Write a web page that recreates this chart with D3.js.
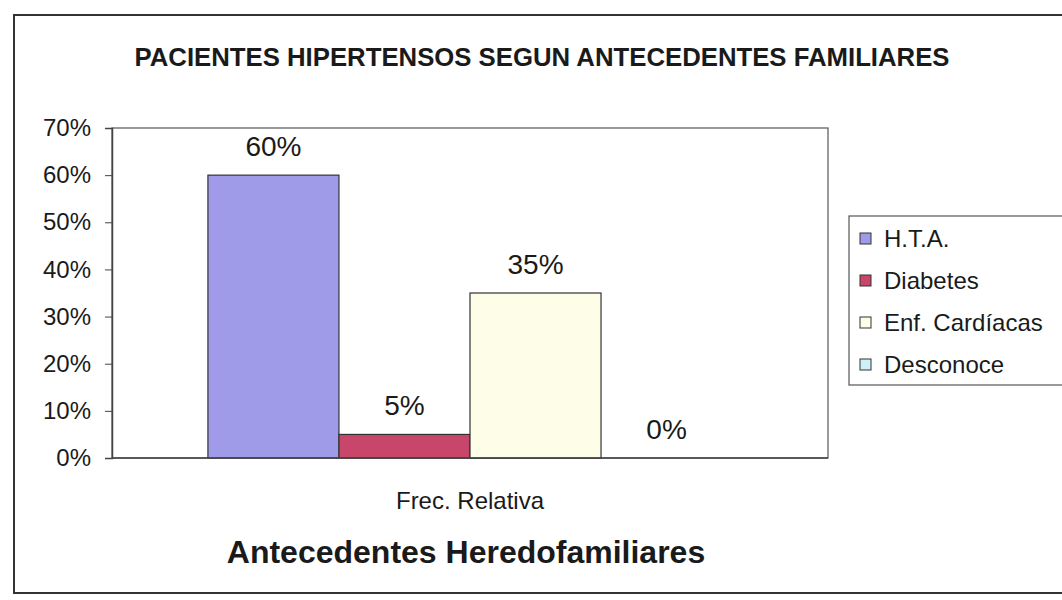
<!DOCTYPE html>
<html>
<head>
<meta charset="utf-8">
<script src="https://cdn.jsdelivr.net/npm/d3@7"></script>
<style>
body { margin: 0; background: #fff; }
text { font-family: "Liberation Sans", Arial, sans-serif; fill: #1a1a1a; }
</style>
</head>
<body>
<div class="chart"></div>
<script>
var width = 1062;
var height = 600;

// data
var category = ["Frec. Relativa"];
var series = ["H.T.A.", "Diabetes", "Enf. Cardíacas", "Desconoce"];
var values = [0.60, 0.05, 0.35, 0.00];
var colors = ["#a09be9", "#c8466a", "#fdfde8", "#ccf2f7"];
var yTicks = [0, 0.1, 0.2, 0.3, 0.4, 0.5, 0.6, 0.7];

var svg = d3.select(".chart").append("svg")
.attr("width", width)
.attr("height", height)
.style("display", "block");

// outer frame
svg.append("rect")
.attr("x", 14).attr("y", 15)
.attr("width", 1070).attr("height", 578)
.attr("fill", "none")
.attr("stroke", "#333")
.attr("stroke-width", 2);

svg.append("text")
.attr("x", 542).attr("y", 66)
.attr("text-anchor", "middle")
.attr("font-size", "25px")
.attr("font-weight", "bold")
.attr("textLength", 815)
.attr("lengthAdjust", "spacingAndGlyphs")
.text("PACIENTES HIPERTENSOS SEGUN ANTECEDENTES FAMILIARES");

var plot = { left: 112, top: 128, right: 828, bottom: 458 };

var y = d3.scaleLinear()
.domain([0, 0.7])
.range([plot.bottom, plot.top]);

var x0 = d3.scaleBand()
.domain(category)
.range([plot.left, plot.right])
.paddingInner(0)
.paddingOuter(0.183);

var x1 = d3.scaleBand()
.domain(series)
.range([0, x0.bandwidth()]);

// plot frame
svg.append("rect")
.attr("x", plot.left).attr("y", plot.top)
.attr("width", plot.right - plot.left).attr("height", plot.bottom - plot.top)
.attr("fill", "#fff")
.attr("stroke", "#555")
.attr("stroke-width", 1.2);

var yAxis = svg.append("g")
.attr("transform", "translate(" + plot.left + ",0)")
.call(d3.axisLeft(y)
  .tickValues(yTicks)
  .tickSize(7)
  .tickPadding(14)
  .tickFormat(d3.format(".0%")));
yAxis.select(".domain").attr("stroke", "#444").attr("stroke-width", 1.5);
yAxis.selectAll(".tick line").attr("stroke", "#444");
yAxis.selectAll("text")
.attr("font-size", "24px")
.attr("fill", "#1a1a1a")
.style("font-family", "'Liberation Sans', Arial, sans-serif");

var group = svg.selectAll(".group")
.data(category)
.enter().append("g")
.attr("transform", function(d) { return "translate(" + x0(d) + ",0)"; });

group.selectAll("rect")
.data(series.map(function(s, i) { return { name: s, value: values[i], color: colors[i] }; }))
.enter().append("rect")
.attr("x", function(d) { return x1(d.name); })
.attr("y", function(d) { return y(d.value); })
.attr("width", x1.bandwidth())
.attr("height", function(d) { return y(0) - y(d.value); })
.attr("fill", function(d) { return d.color; })
.attr("stroke", "#333")
.attr("stroke-width", function(d) { return d.value > 0 ? 1.2 : 0; });

group.selectAll(".lbl")
.data(series.map(function(s, i) { return { name: s, value: values[i] }; }))
.enter().append("text")
.attr("class", "lbl")
.attr("x", function(d) { return x1(d.name) + x1.bandwidth() / 2; })
.attr("y", function(d) { return y(d.value) - 19; })
.attr("text-anchor", "middle")
.attr("font-size", "28px")
.text(function(d) { return d3.format(".0%")(d.value); });

// x axis baseline
svg.append("line")
.attr("x1", plot.left).attr("x2", plot.right)
.attr("y1", y(0)).attr("y2", y(0))
.attr("stroke", "#444").attr("stroke-width", 1.5);

svg.append("text")
.attr("x", x0(category[0]) + x0.bandwidth() / 2)
.attr("y", 509)
.attr("text-anchor", "middle")
.attr("font-size", "24px")
.text(category[0]);

svg.append("text")
.attr("x", 466).attr("y", 563)
.attr("text-anchor", "middle")
.attr("font-size", "32px")
.attr("font-weight", "bold")
.text("Antecedentes Heredofamiliares");

// legend
var legend = svg.append("g").attr("transform", "translate(849,216)");
legend.append("rect")
.attr("width", 240).attr("height", 169)
.attr("fill", "#fff")
.attr("stroke", "#555")
.attr("stroke-width", 1.2);

var item = legend.selectAll(".item")
.data(series)
.enter().append("g")
.attr("transform", function(d, i) { return "translate(11," + (22 + i * 42) + ")"; });

item.append("rect")
.attr("x", 0).attr("y", -5)
.attr("width", 11).attr("height", 11)
.attr("fill", function(d, i) { return colors[i]; })
.attr("stroke", "#333");

item.append("text")
.attr("x", 24).attr("y", 9)
.attr("font-size", "24px")
.text(function(d) { return d; });
</script>
</body>
</html>
